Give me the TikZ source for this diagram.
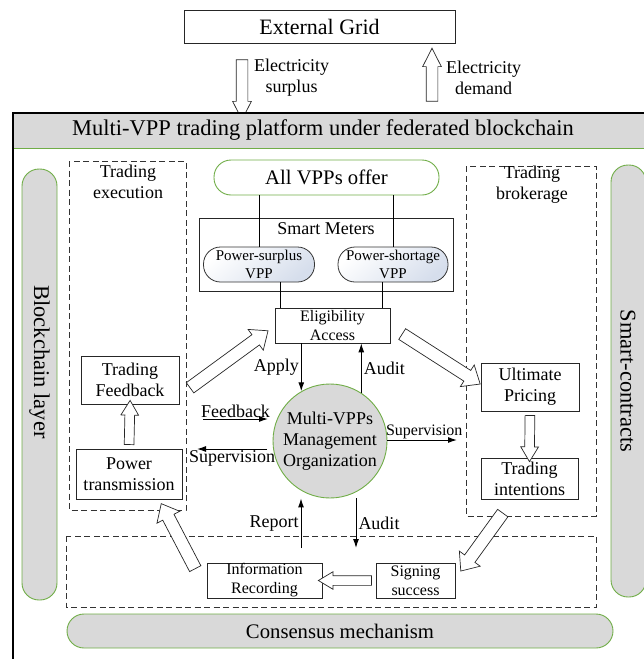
\documentclass[tikz,border=0pt]{standalone}
\usepackage{fontspec}
\setmainfont{Liberation Serif}
\usetikzlibrary{arrows.meta,shapes.arrows,calc}
\definecolor{pillgreen}{RGB}{112,173,71}
\definecolor{pillgray}{RGB}{217,217,217}
\definecolor{vppblue}{RGB}{214,222,236}
\newcommand{\hollowarrow}[4][fatS]{%
  \path let \p1=($(#4)-(#3)$), \n1={veclen(\x1,\y1)} in
    ($(#3)!0.5!(#4)$) node[#1, minimum height=\n1, rotate={atan2(\y1,\x1)}] (#2) {};}

\begin{document}
\begin{tikzpicture}[x=1pt, y=-1pt, font=\fontsize{18}{21}\selectfont,
  box/.style={draw=black!85, line width=0.8pt, align=center, inner sep=0pt},
  pill/.style={draw=pillgreen, line width=0.9pt, fill=pillgray, rounded corners=17, inner sep=0pt},
  vpp/.style={draw=black!80, line width=0.8pt, rounded corners=17, align=center, inner sep=0pt,
    minimum height=35, top color=white, bottom color=vppblue, shading angle=40, font=\fontsize{15}{18}\selectfont},
  group/.style={draw=black!80, line width=0.7pt, dash pattern=on 6pt off 3.5pt},
  big/.style={font=\fontsize{20.7}{24}\selectfont},
  side/.style={font=\fontsize{22.5}{26}\selectfont, rotate=-90},
  link/.style={line width=1pt, -{Latex[length=9pt,width=6pt]}},
  fat/.style={single arrow, draw=black!85, line width=0.7pt, fill=white, inner xsep=0pt, minimum width=0pt},
  fatS/.style={fat, inner ysep=4.5pt, single arrow head extend=4pt, single arrow tip angle=62},
  fatL/.style={fat, inner ysep=6pt, single arrow head extend=6.5pt, single arrow tip angle=80},
  fatE/.style={fat, inner ysep=5.5pt, single arrow head extend=3.5pt, single arrow tip angle=54}]
\useasboundingbox (0,0) rectangle (643,659);

\node[box, font=\fontsize{22}{25}\selectfont, minimum width=271, minimum height=33] (grid) at (319.5,26.5) {External Grid};
\coordinate (surtop) at (242,54);
\coordinate (surtip) at (242,114);
\coordinate (demtop) at (432,54);
\coordinate (demtail) at (432,107);
\hollowarrow[fatE]{surplusarrow}{surtop}{surtip}
\hollowarrow[fatE]{demandarrow}{demtail}{demtop}
\node[align=center] (surlabel) at (291.5,78) {Electricity\\surplus};
\node[align=center] (demlabel) at (483.5,78) {Electricity\\demand};

\fill[pillgray] (13,113) rectangle (646,148);
\draw[pillgreen, line width=1pt] (13,148) -- (646,148);
\draw[line width=1.2pt] (13,113) rectangle (646,665);
\node[font=\fontsize{22.5}{26}\selectfont] (platform) at (323,130) {Multi-VPP trading platform under federated blockchain};

\node[pill, minimum width=35, minimum height=431] (chainpill) at (39.5,384.5) {};
\node[side] (chain) at (39.5,362) {Blockchain layer};
\node[pill, minimum width=35, minimum height=432] (contractpill) at (628.5,381) {};
\node[side] (contract) at (628,381) {Smart-contracts};
\node[pill, big, minimum width=546, minimum height=34] (consensus) at (340,631) {Consensus mechanism};

\draw[group] (69,161) rectangle (186,510);
\node[align=center] (exec) at (128,181.5) {Trading\\execution};
\draw[group] (466,166) rectangle (596,516);
\node[align=center] (broker) at (532,185) {Trading\\brokerage};
\draw[group] (66,536) rectangle (596,607);

\node[pill, big, fill=white, minimum width=225, minimum height=35] (offer) at (326.5,177.5) {All VPPs offer};
\node[box, minimum width=254, minimum height=73] (meters) at (326,254.5) {};
\node (meterlabel) at (326,229) {Smart Meters};
\node[vpp, minimum width=111] (surplus) at (259,264.5) {Power-surplus\\VPP};
\node[vpp, minimum width=110] (shortage) at (393,264.5) {Power-shortage\\VPP};
\node[box, font=\fontsize{16}{19}\selectfont, minimum width=115, minimum height=35] (elig) at (332.5,325.5) {Eligibility\\Access};
\draw[line width=1pt] (offer.south -| surplus.north) -- (surplus.north);
\draw[line width=1pt] (offer.south -| shortage.north) -- (shortage.north);
\draw[line width=1pt] ([xshift=6pt]elig.north west |- surplus.south) -- ([xshift=6pt]elig.north west);
\draw[line width=1pt] ([xshift=-8pt]elig.north east |- shortage.south) -- ([xshift=-8pt]elig.north east);

\node[circle, draw=pillgreen, fill=pillgray, line width=0.9pt, minimum size=114, inner sep=0pt, align=center] (mvpp) at (330,441) {Multi-VPPs\\Management\\Organization};

\node[box, minimum width=98, minimum height=48] (feedback) at (130,380) {Trading\\Feedback};
\node[box, minimum width=106, minimum height=50] (trans) at (129,474) {Power\\transmission};
\node[box, minimum width=98, minimum height=48] (pricing) at (530,387) {Ultimate\\Pricing};
\node[box, minimum width=97, minimum height=41] (intent) at (529.5,478.5) {Trading\\intentions};
\node[box, font=\fontsize{16}{19}\selectfont, minimum width=79, minimum height=35] (signing) at (415.5,580.5) {Signing\\success};
\node[box, font=\fontsize{16}{19}\selectfont, minimum width=115, minimum height=35] (record) at (264.5,580.5) {Information\\Recording};

\draw[link] (mvpp.120 |- elig.south) -- (mvpp.120) node[midway, left, inner sep=2pt] (apply) {Apply};
\draw[link] (mvpp.57) -- (mvpp.57 |- elig.south) node[midway, right, inner sep=2pt] (auditup) {Audit};
\coordinate (fbstart) at (203,419);
\coordinate (fbend) at (268,419);
\draw[link] (fbstart) -- (fbend) node[midway, above, inner sep=1pt] (fblabel) {Feedback};
\coordinate (supstart) at (267,449);
\coordinate (supend) at (197,449);
\draw[link] (supstart) -- (supend) node[midway, below, inner sep=1pt] (suplabel) {Supervision};
\coordinate (suprend) at (457,440);
\draw[link] (mvpp.east |- suprend) -- (suprend) node[midway, above, inner sep=1pt, font=\fontsize{16}{19}\selectfont, xshift=2pt] (suprlabel) {Supervision};
\coordinate (reptail) at (301,548);
\draw[link] (reptail) -- (reptail |- mvpp.south) node[midway, left, inner sep=2pt] (replabel) {Report};
\coordinate (auditend) at (356,548);
\draw[link] (auditend |- mvpp.south) -- (auditend) node[midway, right, inner sep=2pt] (auditdown) {Audit};

\hollowarrow{transup}{trans.north}{feedback.south}
\hollowarrow{pricedown}{pricing.south}{intent.north}
\hollowarrow{signleft}{signing.west}{record.east}
\coordinate (fbtail) at (187,390);
\coordinate (fbtip) at (265,333);
\hollowarrow[fatL]{toelig}{fbtail}{fbtip}
\coordinate (eltail) at (399,332);
\coordinate (eltip) at (477,382);
\hollowarrow[fatL]{topricing}{eltail}{eltip}
\coordinate (intail) at (505,510);
\coordinate (intip) at (463,568);
\hollowarrow[fatL]{tosigning}{intail}{intip}
\coordinate (retail) at (197,572);
\coordinate (retip) at (163,507);
\hollowarrow[fatL]{totrans}{retail}{retip}
\end{tikzpicture}
\end{document}
